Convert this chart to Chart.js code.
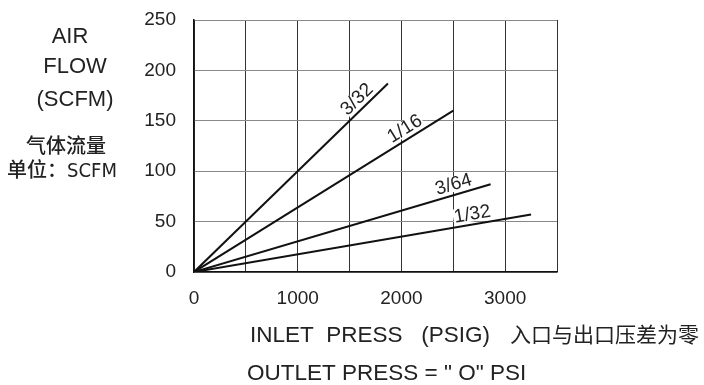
<!DOCTYPE html>
<html>
<head>
<meta charset="utf-8">
<script src="https://cdn.jsdelivr.net/npm/chart.js@4.4.0/dist/chart.umd.min.js"></script>
<style>
  html, body { margin: 0; padding: 0; background: #fff; }
  #wrap { width: 704px; height: 385px; position: relative; }
</style>
</head>
<body>
<div id="wrap"><canvas id="flow-chart" width="704" height="385"></canvas></div>
<script>
// orifice sizes and the end point of each straight line (PSIG, SCFM)
var orifices = ["3/32", "1/16", "3/64", "1/32"];
var endPress = [1870, 2500, 2860, 3250];
var endFlow = [187, 160, 87, 57];
// where along each line the size label sits (PSIG)
var labelPress = [1640, 2085, 2530, 2700];

var xTicks = [0, 1000, 2000, 3000];
var yTicks = [0, 50, 100, 150, 200, 250];

var latin = '"Liberation Sans", Arial, Helvetica, sans-serif';
var cjk = '"Noto Sans CJK SC", sans-serif';

var datasets = orifices.map(function(name, i) {
    return {
        label: name,
        data: [{ x: 0, y: 0 }, { x: endPress[i], y: endFlow[i] }],
        borderColor: '#111',
        borderWidth: 2,
        pointRadius: 0,
        tension: 0,
        fill: false
    };
});

// writes the size name along each line, on a white patch
var lineLabels = {
    id: 'lineLabels',
    afterDatasetsDraw: function(chart) {
        var ctx = chart.ctx;
        var xs = chart.scales.x, ys = chart.scales.y;
        ctx.save();
        ctx.font = '19px ' + latin;
        orifices.forEach(function(name, i) {
            var x0 = xs.getPixelForValue(0), y0 = ys.getPixelForValue(0);
            var x1 = xs.getPixelForValue(endPress[i]), y1 = ys.getPixelForValue(endFlow[i]);
            var ang = Math.atan2(y1 - y0, x1 - x0);
            var px = xs.getPixelForValue(labelPress[i]);
            var py = ys.getPixelForValue(endFlow[i] * labelPress[i] / endPress[i]);
            ctx.save();
            ctx.translate(px, py);
            ctx.rotate(ang);
            var w = ctx.measureText(name).width;
            ctx.fillStyle = '#fff';
            ctx.fillRect(-w / 2 - 1, -18, w + 2, 15);
            ctx.fillStyle = '#222';
            ctx.textAlign = 'center';
            ctx.textBaseline = 'middle';
            ctx.fillText(name, 0, -10);
            ctx.restore();
        });
        ctx.restore();
    }
};

// axis captions, including the Chinese notes
var captions = {
    id: 'captions',
    afterDraw: function(chart) {
        var ctx = chart.ctx;
        ctx.save();
        ctx.fillStyle = '#222';
        ctx.textBaseline = 'middle';
        ctx.textAlign = 'center';
        ctx.font = '22px ' + latin;
        ctx.fillText('AIR', 70, 37);
        ctx.fillText('FLOW', 75, 67);
        ctx.fillText('(SCFM)', 75, 100);
        ctx.font = '500 20px ' + cjk;
        ctx.fillText('气体流量', 66, 145);
        ctx.font = '500 20px "Liberation Sans Narrow", "DejaVu Sans Condensed", ' + cjk;
        ctx.fillText('单位：SCFM', 62, 172);

        ctx.textAlign = 'left';
        ctx.font = '22.5px ' + latin;
        ctx.fillText('INLET  PRESS   (PSIG)', 250, 336);
        ctx.fillText('OUTLET PRESS = " O" PSI', 247, 374);
        ctx.font = '21px ' + cjk;
        ctx.fillText('入口与出口压差为零', 510, 334);
        ctx.restore();
    }
};

var chart = new Chart(document.getElementById('flow-chart').getContext('2d'), {
    type: 'line',
    data: { datasets: datasets },
    plugins: [lineLabels, captions],
    options: {
        responsive: false,
        animation: false,
        layout: { padding: { top: 20, right: 147, left: 0, bottom: 0 } },
        plugins: {
            legend: { display: false },
            tooltip: { enabled: false }
        },
        scales: {
            x: {
                type: 'linear',
                min: 0,
                max: 3500,
                afterFit: function(s) { s.height = 113; },
                afterBuildTicks: function(s) {
                    s.ticks = [0, 500, 1000, 1500, 2000, 2500, 3000, 3500].map(function(v) { return { value: v }; });
                },
                ticks: {
                    autoSkip: false,
                    maxRotation: 0,
                    padding: 15,
                    color: '#222',
                    font: { family: latin, size: 19 },
                    callback: function(v) { return xTicks.indexOf(v) >= 0 ? String(v) : ''; }
                },
                grid: { color: '#333', lineWidth: 1, drawTicks: false },
                border: { display: true, color: '#111', width: 1.5 }
            },
            y: {
                min: 0,
                max: 250,
                afterFit: function(s) {
                    s.width = 194;
                    s.paddingTop = 10;
                    s.paddingBottom = 10;
                },
                afterBuildTicks: function(s) {
                    s.ticks = yTicks.map(function(v) { return { value: v }; });
                },
                ticks: {
                    padding: 18,
                    color: '#222',
                    font: { family: latin, size: 19 }
                },
                grid: { color: '#888', lineWidth: 1, drawTicks: false },
                border: { display: true, color: '#111', width: 1.5 }
            }
        }
    }
});
</script>
</body>
</html>
